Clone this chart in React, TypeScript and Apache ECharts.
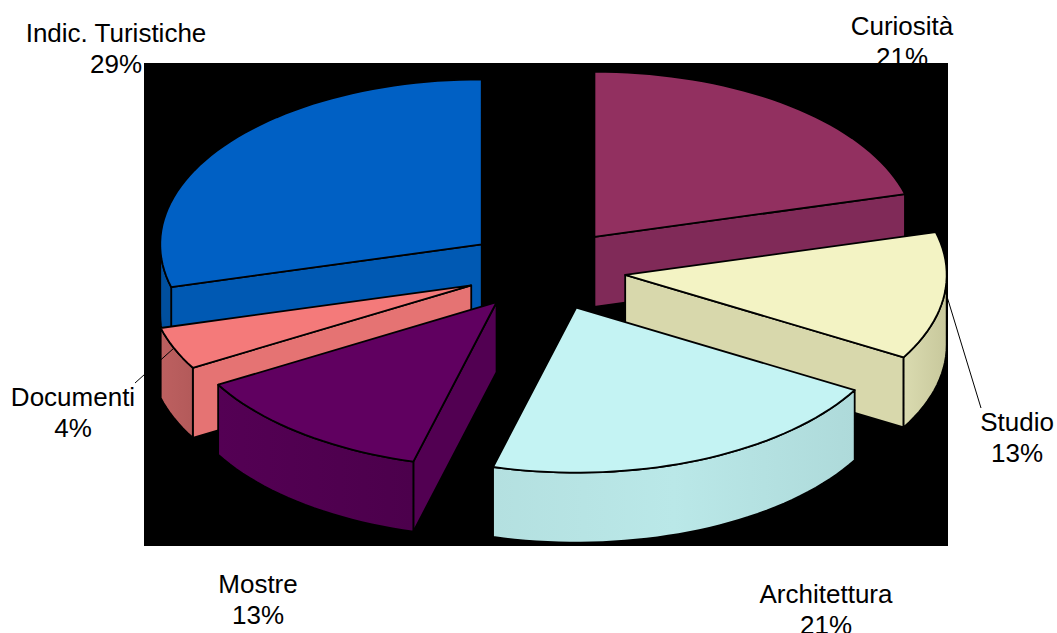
import React, { useEffect, useRef } from "react";
import * as echarts from "echarts";

// Visit counts per topic, clockwise from twelve o'clock.
const categories = ["Curiosità", "Studio", "Architettura", "Mostre", "Documenti", "Indic. Turistiche"];
const counts = [5, 3, 5, 3, 1, 7];

// Per-slice paint: top face, flat cut face, and the stops along the curved rim.
const topColors = ["#923060", "#f3f3c4", "#c4f3f3", "#600060", "#f47a7a", "#0060c4"];
const cutColors = ["#802a58", "#d8d8ac", "#b8e6e6", "#520052", "#e57373", "#0059b3"];
const rimStops = [
  ["#7f2a55", "#7f2a55"],
  ["#dadbb0", "#c8c89c"],
  ["#b4e0e0", "#bae8e8", "#aedada"],
  ["#540054", "#4c004c"],
  ["#bd6060", "#b35a5a"],
  ["#004f9e", "#004f9e"],
];

// Label anchors (centre x, first-line y) and leader lines.
const labelAnchors = [
  [902, 26],
  [1017, 422],
  [826, 594],
  [258, 584],
  [73, 397],
  [116, 33],
];
const LEADERS = [
  [945, 290, 981, 408],
  [135, 383, 174, 348],
];

// Pie projection.
const CX = 545.5;
const CY = 269.5;
const RX = 321.5;
const RY = 165;
const DEPTH = 70;
const EXPLODE = 0.25;
const ARC_STEP = 2;

const rad = (deg: number) => (deg * Math.PI) / 180;
const total = counts.reduce((a, b) => a + b, 0);

function sliceAngles() {
  let acc = 0;
  return counts.map((c) => {
    const start = (acc / total) * 360;
    acc += c;
    return [start, (acc / total) * 360];
  });
}
const angles = sliceAngles();

function apexOf(i: number) {
  const mid = rad((angles[i][0] + angles[i][1]) / 2);
  return [CX + EXPLODE * RX * Math.sin(mid), CY - EXPLODE * RY * Math.cos(mid)];
}

function rimPoints(apex: number[], from: number, to: number, dy = 0) {
  const pts: number[][] = [];
  const n = Math.max(1, Math.ceil((to - from) / ARC_STEP));
  for (let k = 0; k <= n; k++) {
    const t = rad(from + ((to - from) * k) / n);
    pts.push([apex[0] + RX * Math.sin(t), apex[1] - RY * Math.cos(t) + dy]);
  }
  return pts;
}

function cutFace(apex: number[], deg: number, fill: string) {
  const t = rad(deg);
  const ex = apex[0] + RX * Math.sin(t);
  const ey = apex[1] - RY * Math.cos(t);
  return {
    type: "polygon",
    shape: {
      points: [
        [apex[0], apex[1]],
        [ex, ey],
        [ex, ey + DEPTH],
        [apex[0], apex[1] + DEPTH],
      ],
    },
    style: { fill, stroke: "#000", lineWidth: 1.8, lineJoin: "round" },
  };
}

function renderSlice(_params: any, api: any) {
  const i = api.value(0) as number;
  const [start, end] = angles[i];
  const apex = apexOf(i);
  const children: any[] = [];

  // The face on the clockwise-leading side shows in the lower half, the other in the upper half.
  if (Math.sin(rad(start)) < -1e-6) children.push(cutFace(apex, start, cutColors[i]));
  if (Math.sin(rad(end)) > 1e-6) children.push(cutFace(apex, end, cutColors[i]));

  // Curved rim: only the arc between 90 and 270 degrees faces the viewer.
  const rimFrom = Math.max(start, 90);
  const rimTo = Math.min(end, 270);
  if (rimTo > rimFrom) {
    const top = rimPoints(apex, rimFrom, rimTo);
    const bottom = rimPoints(apex, rimFrom, rimTo, DEPTH).reverse();
    const stops = rimStops[i].map((color, k, all) => ({ offset: k / (all.length - 1), color }));
    children.push({
      type: "polygon",
      shape: { points: [...top, ...bottom] },
      style: {
        fill: new echarts.graphic.LinearGradient(0, 0, 1, 0, stops),
        stroke: "#000",
        lineWidth: 1.8,
        lineJoin: "round",
      },
    });
  }

  children.push({
    type: "polygon",
    shape: { points: [[apex[0], apex[1]], ...rimPoints(apex, start, end)] },
    style: { fill: topColors[i], stroke: "#000", lineWidth: 1.8, lineJoin: "round" },
  });
  return { type: "group", children };
}

// Far slices first so that nearer ones paint over them.
const paintOrder = counts.map((_, i) => i).sort((a, b) => apexOf(a)[1] - apexOf(b)[1]);

export default function App() {
  const ref = useRef<HTMLDivElement>(null);

  useEffect(() => {
    const chart = echarts.init(ref.current!, undefined, { renderer: "svg" });
    const labels = categories.map((name, i) => ({
      type: "text",
      z: 0,
      x: labelAnchors[i][0],
      y: labelAnchors[i][1] + 15.5,
      style: {
        text: `${name}\n${Math.round((counts[i] / total) * 100)}%`,
        fill: "#000",
        font: '26px "Liberation Sans", Arial, sans-serif',
        lineHeight: 31,
        align: "center",
        verticalAlign: "middle",
      },
    }));
    chart.setOption({
      animation: false,
      backgroundColor: "#fff",
      graphic: {
        elements: [
          ...labels,
          {
            type: "rect",
            z: 1,
            shape: { x: 144, y: 63, width: 804, height: 483 },
            style: { fill: "#000" },
          },
          ...LEADERS.map(([x1, y1, x2, y2]) => ({
            type: "line",
            z: 5,
            shape: { x1, y1, x2, y2 },
            style: { stroke: "#000", lineWidth: 1 },
          })),
        ],
      },
      series: [
        {
          type: "custom",
          coordinateSystem: "none",
          z: 2,
          silent: true,
          renderItem: renderSlice,
          data: paintOrder.map((i) => [i, counts[i]]),
        },
      ],
    });
    return () => chart.dispose();
  }, []);

  return <div ref={ref} style={{ position: "fixed", left: 0, top: 0, width: 1057, height: 633 }} />;
}
